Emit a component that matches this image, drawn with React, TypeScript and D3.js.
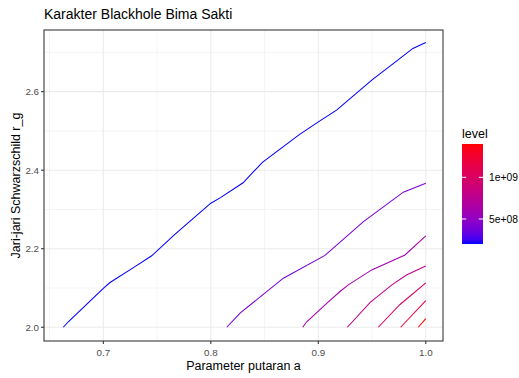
import React from "react";
import * as d3 from "d3";

// ---- data ----
const levels = [2e8, 4e8, 6e8, 8e8, 1e9, 1.2e9, 1.4e9];

const line1: [number, number][] = [
  [0.6628, 2.0], [0.6674, 2.014], [0.70, 2.099], [0.7062, 2.114], [0.728, 2.152],
  [0.745, 2.182], [0.766, 2.235], [0.80, 2.316], [0.809, 2.33], [0.83, 2.368],
  [0.848, 2.42], [0.882, 2.49], [0.90, 2.523], [0.917, 2.553], [0.95, 2.63],
  [0.97, 2.672], [0.988, 2.71], [1.0, 2.725],
];
const line2: [number, number][] = [
  [0.8148, 2.0], [0.8272, 2.036], [0.8675, 2.125], [0.9062, 2.183], [0.942, 2.269],
  [0.9791, 2.344], [1.0, 2.367],
];
const line3: [number, number][] = [
  [0.8855, 2.0], [0.8892, 2.014], [0.9078, 2.061], [0.9202, 2.091], [0.9279, 2.108],
  [0.9497, 2.146], [0.9806, 2.184], [1.0, 2.233],
];
const line4: [number, number][] = [
  [0.927, 2.0], [0.9485, 2.064], [0.9685, 2.108], [0.982, 2.133], [1.0, 2.156],
];
const line5: [number, number][] = [[0.9558, 2.0], [0.976, 2.058], [1.0, 2.113]];
const line6: [number, number][] = [[0.9766, 2.0], [1.0, 2.068]];
const line7: [number, number][] = [[0.993, 2.0], [1.0, 2.022]];
const contourLines = [line1, line2, line3, line4, line5, line6, line7];

const xTicks = [0.7, 0.8, 0.9, 1.0];
const xMinor = [0.65, 0.75, 0.85, 0.95];
const yTicks = [2.0, 2.2, 2.4, 2.6];
const yMinor = [2.1, 2.3, 2.5, 2.7];
const legendTicks = [5e8, 1e9];
const legendLabels = ["5e+08", "1e+09"];

const W = 519;
const H = 378;
const P = { left: 44, right: 443, top: 30, bottom: 341 };
const FONT = "'Liberation Sans', Arial, sans-serif";

export default function App() {
  const x = d3.scaleLinear().domain([0.6448, 1.016]).range([P.left, P.right]);
  const y = d3.scaleLinear().domain([1.965, 2.757]).range([P.bottom, P.top]);
  const col = d3
    .scaleLinear<string>()
    .domain([levels[0], levels[levels.length - 1]])
    .range(["blue", "red"])
    .interpolate(d3.interpolateLab);
  const line = d3
    .line<[number, number]>()
    .x((d) => x(d[0]))
    .y((d) => y(d[1]));

  const bar = { x: 462, w: 21, top: 144, bottom: 244 };
  const ly = d3
    .scaleLinear()
    .domain([levels[0], levels[levels.length - 1]])
    .range([bar.bottom, bar.top]);
  const stops = d3.range(0, 21).map((i) => i / 20);

  return (
    <svg width={W} height={H} style={{ position: "absolute", left: 0, top: 0, background: "white" }}>
      <defs>
        <linearGradient id="lg" x1="0" y1="1" x2="0" y2="0">
          {stops.map((t) => (
            <stop key={t} offset={t} stopColor={col(levels[0] + t * (levels[6] - levels[0]))} />
          ))}
        </linearGradient>
      </defs>
      <rect x={0} y={0} width={W} height={H} fill="white" />
      {/* grid */}
      {xMinor.map((v) => (
        <line key={"xm" + v} x1={x(v)} x2={x(v)} y1={P.top} y2={P.bottom} stroke="#EBEBEB" strokeWidth={0.55} />
      ))}
      {yMinor.map((v) => (
        <line key={"ym" + v} x1={P.left} x2={P.right} y1={y(v)} y2={y(v)} stroke="#EBEBEB" strokeWidth={0.55} />
      ))}
      {xTicks.map((v) => (
        <line key={"xg" + v} x1={x(v)} x2={x(v)} y1={P.top} y2={P.bottom} stroke="#EBEBEB" strokeWidth={1.07} />
      ))}
      {yTicks.map((v) => (
        <line key={"yg" + v} x1={P.left} x2={P.right} y1={y(v)} y2={y(v)} stroke="#EBEBEB" strokeWidth={1.07} />
      ))}
      {/* contour lines */}
      {contourLines.map((d, i) => (
        <path key={i} d={line(d) || ""} fill="none" stroke={col(levels[i])} strokeWidth={1.05} />
      ))}
      {/* border */}
      <rect x={P.left} y={P.top} width={P.right - P.left} height={P.bottom - P.top} fill="none" stroke="#333333" strokeWidth={1.07} />
      {/* axes ticks */}
      {xTicks.map((v) => (
        <g key={"xt" + v}>
          <line x1={x(v)} x2={x(v)} y1={P.bottom} y2={P.bottom + 3} stroke="#333333" strokeWidth={1.07} />
          <text x={x(v)} y={P.bottom + 15} textAnchor="middle" fontFamily={FONT} fontSize={9.8} fill="#4D4D4D">
            {v.toFixed(1)}
          </text>
        </g>
      ))}
      {yTicks.map((v) => (
        <g key={"yt" + v}>
          <line x1={P.left - 3} x2={P.left} y1={y(v)} y2={y(v)} stroke="#333333" strokeWidth={1.07} />
          <text x={P.left - 5} y={y(v) + 3.4} textAnchor="end" fontFamily={FONT} fontSize={9.8} fill="#4D4D4D">
            {v.toFixed(1)}
          </text>
        </g>
      ))}
      {/* titles */}
      <text x={P.left} y={19} fontFamily={FONT} fontSize={14} fill="black">
        Karakter Blackhole Bima Sakti
      </text>
      <text x={(P.left + P.right) / 2} y={370} textAnchor="middle" fontFamily={FONT} fontSize={12.5} fill="black">
        Parameter putaran a
      </text>
      <text
        transform={`translate(20,${(P.top + P.bottom) / 2}) rotate(-90)`}
        textAnchor="middle"
        fontFamily={FONT}
        fontSize={12.5}
        fill="black"
      >
        Jari-jari Schwarzschild r_g
      </text>
      {/* legend */}
      <text x={bar.x} y={137.5} fontFamily={FONT} fontSize={12.5} fill="black">
        level
      </text>
      <rect x={bar.x} y={bar.top} width={bar.w} height={bar.bottom - bar.top} fill="url(#lg)" />
      {legendTicks.map((v, i) => (
        <g key={"lt" + v}>
          <line x1={bar.x} x2={bar.x + 4.2} y1={ly(v)} y2={ly(v)} stroke="white" strokeWidth={1} />
          <line x1={bar.x + bar.w - 4.2} x2={bar.x + bar.w} y1={ly(v)} y2={ly(v)} stroke="white" strokeWidth={1} />
          <text x={bar.x + bar.w + 6} y={ly(v) + 3.6} fontFamily={FONT} fontSize={10.3} fill="black">
            {legendLabels[i]}
          </text>
        </g>
      ))}
    </svg>
  );
}
